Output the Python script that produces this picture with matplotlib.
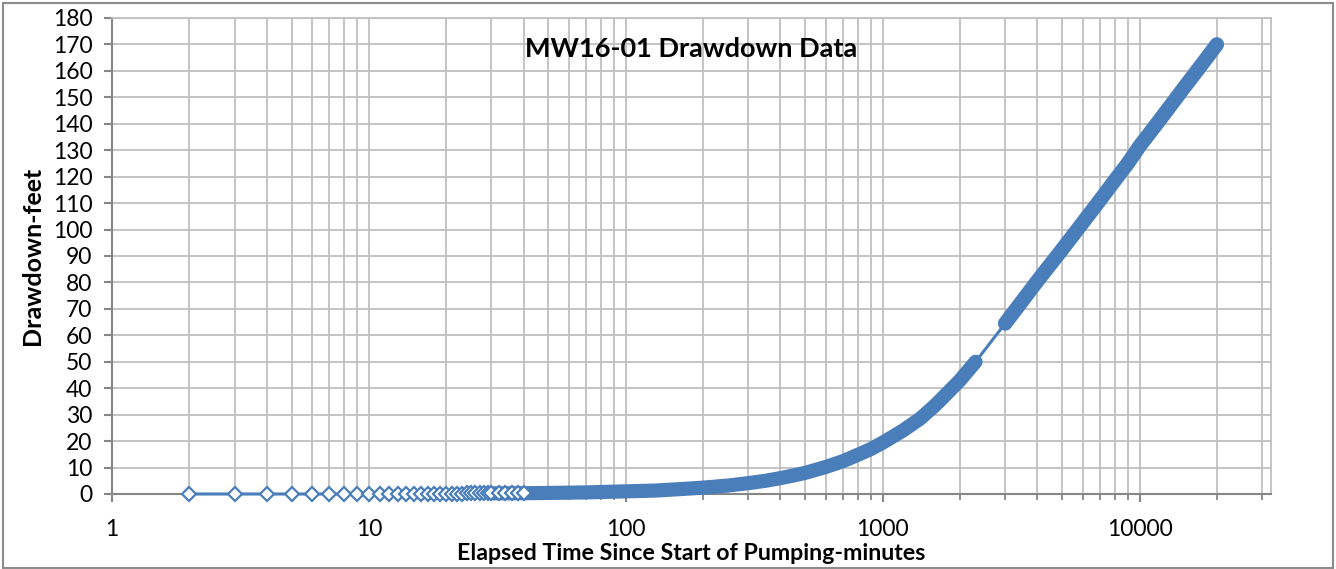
import numpy as np
import matplotlib
matplotlib.use("Agg")
import matplotlib.pyplot as plt
from matplotlib.patches import Rectangle
from matplotlib.ticker import LogLocator, FixedLocator, NullFormatter

plt.rcParams['font.family'] = ['Lato', 'DejaVu Sans']

# early readings, one per minute, drawn as separate diamonds
early_t = [2, 3, 4, 5, 6, 7, 8, 9, 10, 11, 12, 13, 14, 15, 16, 17, 18, 19, 20,
           21, 22, 23, 24, 25, 26, 27, 28, 29, 30, 32, 34, 36, 38, 40]
early_dd = [0.0, 0.0, 0.0, 0.0, 0.0, 0.0, 0.0, 0.0, 0.05, 0.05, 0.05, 0.05, 0.1,
            0.1, 0.1, 0.1, 0.1, 0.1, 0.15, 0.15, 0.15, 0.15, 0.2, 0.2, 0.2, 0.2,
            0.2, 0.2, 0.25, 0.25, 0.25, 0.3, 0.3, 0.3]

# dense part of the record (markers overlap into a solid band)
band1_t = [30, 40, 50, 70, 100, 130, 160, 200, 250, 300, 350, 400, 450, 500, 600,
           700, 800, 900, 1000, 1200, 1400, 1600, 1800, 2000, 2300]
band1_dd = [0.25, 0.3, 0.4, 0.6, 1.0, 1.3, 1.8, 2.4, 3.2, 4.1, 5.0, 6.0, 7.0, 8.0, 10.2,
            12.4, 14.8, 17.0, 19.4, 24.0, 28.5, 33.5, 38.5, 43.0, 50.0]
band2_t = [3000, 4000, 5000, 6000, 7000, 8000, 9000, 10000, 12000, 15000, 17500, 20000]
band2_dd = [64.5, 80.5, 92.5, 102.5, 111.0, 118.5, 125.0, 131.5, 141.5, 154.0, 162.5, 170.0]

blue = '#4a7ebb'
grid_c = '#bfbfbf'

fig = plt.figure(figsize=(13.36, 5.69), dpi=100)
ax = fig.add_axes([112/1336, 1 - 494/569, (1271 - 112)/1336, (494 - 18)/569])

ax.set_xscale('log')
ax.set_xlim(1, 32500)
ax.set_ylim(0, 180)

# gap segment between the two dense parts
ax.plot([band1_t[-1], band2_t[0]], [band1_dd[-1], band2_dd[0]], color=blue, lw=2.2, zorder=3)
ax.plot(band1_t, band1_dd, color=blue, lw=10.2, solid_capstyle='round',
        solid_joinstyle='round', zorder=3, clip_on=False)
ax.plot(band2_t, band2_dd, color=blue, lw=10.5, solid_capstyle='round',
        solid_joinstyle='round', zorder=3)
ax.plot(early_t, early_dd, color=blue, lw=2.2, marker='D', markersize=7.0,
        markerfacecolor='white', markeredgecolor=blue, markeredgewidth=1.6, zorder=4,
        clip_on=False)

ax.xaxis.set_major_locator(FixedLocator([1, 10, 100, 1000, 10000]))
ax.xaxis.set_major_formatter(matplotlib.ticker.FuncFormatter(lambda v, p: '%d' % v))
ax.xaxis.set_minor_locator(LogLocator(base=10, subs=np.arange(2, 10), numticks=20))
ax.xaxis.set_minor_formatter(NullFormatter())
ax.set_yticks(np.arange(0, 181, 10))

ax.grid(True, which='both', axis='x', color=grid_c, lw=1.3)
ax.grid(True, which='major', axis='y', color=grid_c, lw=1.3)
ax.set_axisbelow(True)

for s in ['top', 'right']:
    ax.spines[s].set_color(grid_c)
    ax.spines[s].set_linewidth(1.3)
for s in ['left', 'bottom']:
    ax.spines[s].set_color('#868686')
    ax.spines[s].set_linewidth(1.5)

ax.tick_params(axis='both', which='major', length=6, width=1.5, color='#868686',
               labelsize=16.5, pad=8)
ax.tick_params(axis='x', which='minor', length=4, width=1.3, color='#868686')
ax.tick_params(axis='x', which='major', pad=12)

ax.set_xlabel('Elapsed Time Since Start of Pumping-minutes', fontsize=16.7, fontweight='bold',
              labelpad=2)
ax.set_ylabel('Drawdown-feet', fontsize=18, fontweight='bold', labelpad=6)
ax.text(0.5, 0.935, 'MW16-01 Drawdown Data', transform=ax.transAxes, fontsize=19.5,
        fontweight='bold', ha='center', va='center', zorder=5)

fig.patches.append(Rectangle((3/1336, 0.002), 1330/1336, 1 - 4/569, transform=fig.transFigure,
                             fill=False, edgecolor='#8c8c8c', lw=1.5))

fig.savefig('out.png', dpi=100)
